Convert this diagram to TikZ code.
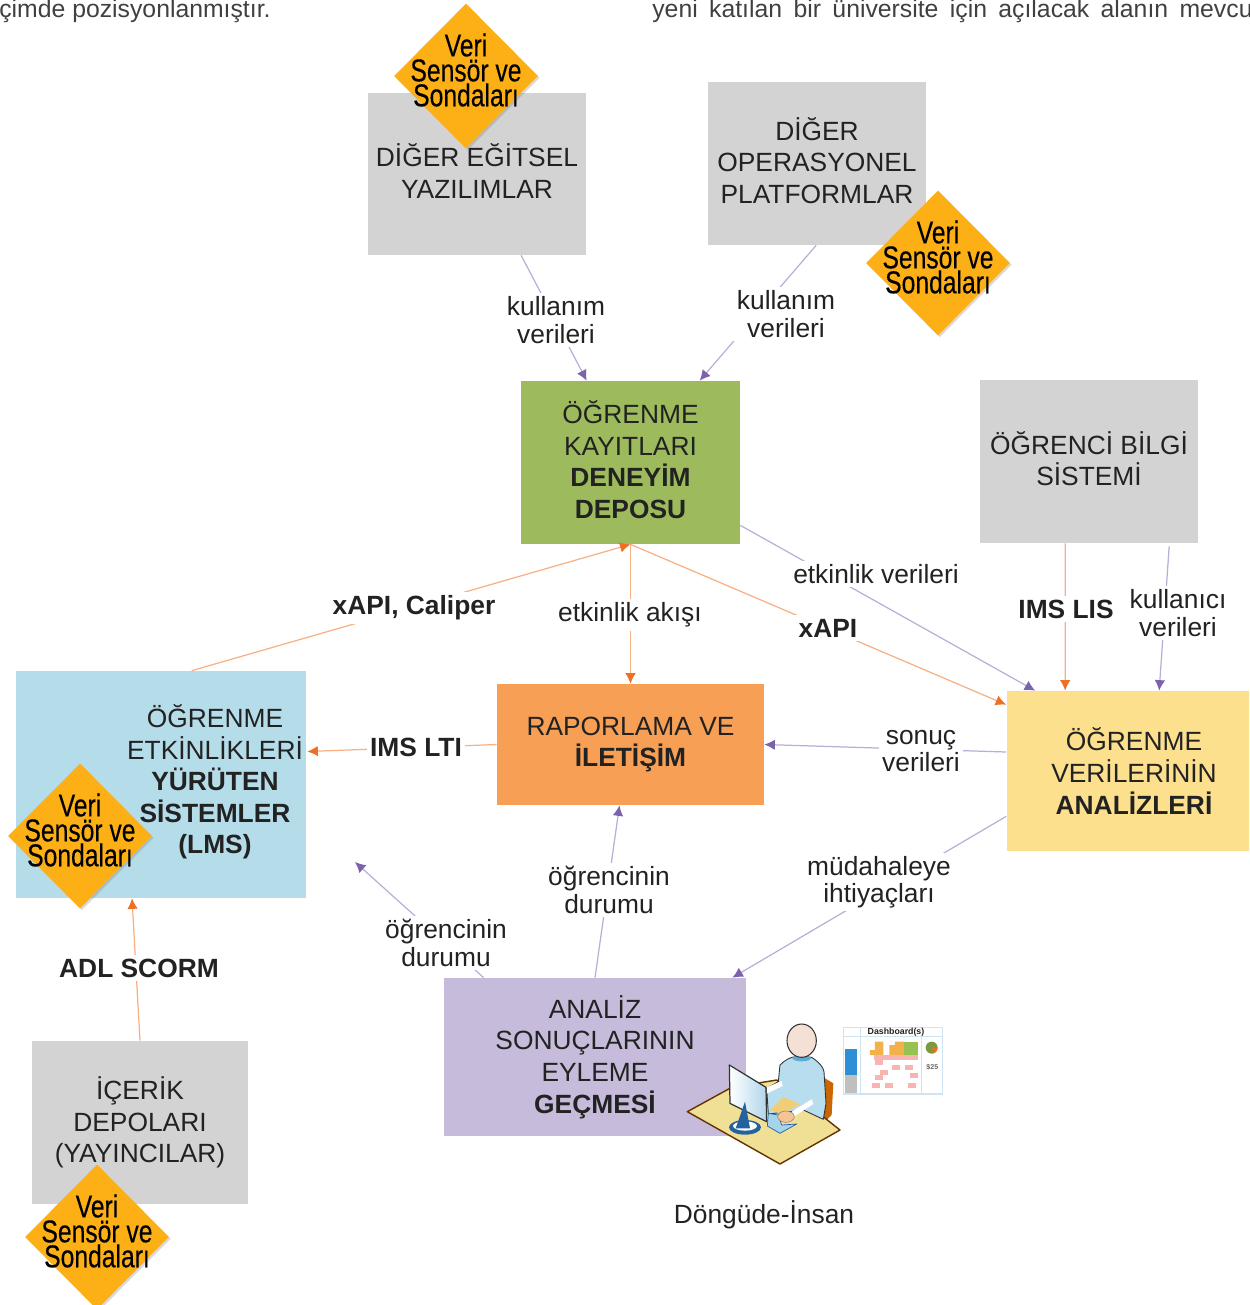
\documentclass[tikz,border=0pt]{standalone}
\usepackage{fontspec}
\setmainfont{Liberation Sans}
\newfontfamily\sondafont[FakeStretch=0.78,FakeBold=0.3]{Liberation Sans}
\usepackage{tikz}
\usetikzlibrary{
  arrows.meta,
  calc,
  shadows,
  shapes.geometric
}
\definecolor{griKutu}{HTML}{D3D3D3}
\definecolor{yesilKutu}{HTML}{9DBB5C}
\definecolor{maviKutu}{HTML}{B5DCE9}
\definecolor{turuncuKutu}{HTML}{F79F55}
\definecolor{sariKutu}{HTML}{FCE08D}
\definecolor{morKutu}{HTML}{C6BBDA}
\definecolor{sondaRenk}{HTML}{FDB016}
\definecolor{morCizgi}{HTML}{B9AED6}
\definecolor{morUc}{HTML}{7A62AC}
\definecolor{turuncuCizgi}{HTML}{F8B083}
\definecolor{turuncuUc}{HTML}{EE7025}
\definecolor{yaziRenk}{HTML}{222222}
\definecolor{masaRenk}{HTML}{EFE096}
\definecolor{govdeRenk}{HTML}{B7DDEE}
\definecolor{yakaRenk}{HTML}{5FA9D3}
\definecolor{tenRenk}{HTML}{F4E0D4}
\definecolor{ekranRenk}{HTML}{D5E9F5}
\definecolor{koyuMavi}{HTML}{25609F}
\definecolor{panoMavi}{HTML}{2E8FD6}
\definecolor{panoCizgi}{HTML}{CFE4F2}
\definecolor{panoTuruncu}{HTML}{F3B14E}
\definecolor{panoYesil}{HTML}{97C24F}
\definecolor{panoPembe}{HTML}{F8B4B0}
\newcommand{\altBosluk}{\rule[-3.4pt]{0pt}{0pt}}
\tikzset{
  every node/.style={text=yaziRenk,font=\fontsize{15}{18}\selectfont},
  kutu/.style={inner sep=0pt,align=center},
  etiket/.style={fill=white,inner sep=2pt,align=center,font=\fontsize{15}{15.5}\selectfont},
  kalin/.style={etiket,font=\fontsize{15}{15.5}\selectfont\bfseries},
  ustyazi/.style={anchor=west,inner sep=0pt,text=black!75,font=\fontsize{14.1}{18}\selectfont},
  sonda/.style={
    diamond,aspect=1,inner sep=0pt,minimum width=2.88cm,minimum height=2.9cm,
    fill=sondaRenk,drop shadow={shadow xshift=1pt,shadow yshift=-1pt,opacity=.3},
    label={[yshift=3.4pt,align=center,text=black,
      font=\sondafont\fontsize{18}{14.2}\selectfont]center:Veri\\Sensör ve\\Sondaları}
  },
  mor/.style={draw=morCizgi,line width=.7pt,-{Latex[color=morUc,length=6pt,width=6pt]}},
  turuncu/.style={draw=turuncuCizgi,line width=.7pt,-{Latex[color=turuncuUc,length=6pt,width=6pt]}},
}

\begin{document}
\begin{tikzpicture}[x=0.02cm,y=-0.02cm]
\clip (0,0) rectangle (1249,1305);
% ust satirlar
\node[ustyazi] (ustSol) at (-1,11) {çimde pozisyonlanmıştır.};
\node[ustyazi] (ustSag) at (652,11) {\spaceskip=.46em yeni katılan bir üniversite için açılacak alanın mevcut};

% kutular
\node[kutu,fill=griKutu,minimum width=4.38cm,minimum height=3.24cm] (egitsel) at (477,174) {DİĞER EĞİTSEL\\YAZILIMLAR\altBosluk};
\node[kutu,fill=griKutu,minimum width=4.38cm,minimum height=3.26cm] (operasyon) at (817,163.5) {DİĞER\\OPERASYONEL\\PLATFORMLAR\altBosluk};
\node[kutu,fill=griKutu,minimum width=4.38cm,minimum height=3.26cm] (bilgi) at (1089,461.5) {ÖĞRENCİ BİLGİ\\SİSTEMİ\altBosluk};
\node[kutu,fill=yesilKutu,minimum width=4.38cm,minimum height=3.26cm] (kayit) at (630.5,462.5) {ÖĞRENME\\KAYITLARI\\\textbf{DENEYİM}\\\textbf{DEPOSU}\altBosluk};
\node[kutu,fill=turuncuKutu,minimum width=5.34cm,minimum height=2.42cm] (rapor) at (630.5,744.5) {RAPORLAMA VE\\\textbf{İLETİŞİM}};
\node[kutu,fill=sariKutu,minimum width=5.1cm,minimum height=3.2cm] (analiz) at (1134,771) {ÖĞRENME\\VERİLERİNİN\\\textbf{ANALİZLERİ}};
\node[kutu,fill=maviKutu,minimum width=5.8cm,minimum height=4.54cm] (lms) at (161,784.5) {};
\node[kutu] (lmsYazi) at (215,782) {ÖĞRENME\\ETKİNLİKLERİ\\\textbf{YÜRÜTEN}\\\textbf{SİSTEMLER}\\\textbf{(LMS)}};
\node[kutu,fill=morKutu,minimum width=6.04cm,minimum height=3.16cm] (eylem) at (595,1057) {ANALİZ\\SONUÇLARININ\\EYLEME\\\textbf{GEÇMESİ}};
\node[kutu,fill=griKutu,minimum width=4.32cm,minimum height=3.26cm] (icerik) at (140,1122.5) {İÇERİK\\DEPOLARI\\(YAYINCILAR)};

% baglantilar
\coordinate (durumUc) at (355,862);
\draw[mor] ($(egitsel.south west)+(154,0)$) -- ($(kayit.north west)+(66,0)$);
\draw[mor] ($(operasyon.south west)+(109,0)$) -- ($(kayit.north west)+(179,0)$);
\draw[turuncu] ($(bilgi.south west)+(86,0)$) -- ($(analiz.north west)+(59,0)$);
\draw[mor] ($(bilgi.south west)+(190,3)$) -- ($(analiz.north west)+(153,0)$);
\draw[mor] ($(kayit.south east)+(0,-19)$) -- ($(analiz.north west)+(29,0)$);
\draw[turuncu] (kayit.south) -- ($(analiz.north west)+(0,14)$);
\draw[turuncu] ($(lms.north west)+(176,0)$) -- (kayit.south);
\draw[turuncu] (kayit.south) -- (rapor.north);
\draw[turuncu] (rapor.west) -- ($(lms.east)+(1,-33)$);
\draw[mor] ($(analiz.west)+(0,-19)$) -- (rapor.east);
\draw[mor] ($(analiz.south west)+(0,-35)$) -- ($(eylem.north east)+(-14,0)$);
\draw[mor] (eylem.north) -- ($(rapor.south)+(-11,0)$);
\draw[mor] ($(eylem.north west)+(40,0)$) -- (durumUc);
\draw[turuncu] (icerik.north) -- ($(lms.south)+(-29,0)$);

% etiketler
\node[etiket] (kullanimA) at (556,320) {kullanım\\verileri};
\node[etiket] (kullanimB) at (786,314) {kullanım\\verileri};
\node[etiket] (etkinlikV) at (876,574) {etkinlik verileri};
\node[etiket] (kullanici) at (1178,613) {kullanıcı\\verileri};
\node[kalin] (imsLis) at (1066,609) {IMS LIS};
\node[kalin] (xapi) at (828,628) {xAPI};
\node[kalin] (caliper) at (414,608) {xAPI, Caliper};
\node[etiket] (akis) at (630,615) {etkinlik akışı};
\node[kalin] (imsLti) at (416,747) {IMS LTI};
\node[etiket] (sonuc) at (921,751) {sonuç\\verileri};
\node[etiket] (mudahale) at (879,882) {müdahaleye\\ihtiyaçları};
\node[etiket] (durumA) at (609,890) {öğrencinin\\durumu};
\node[etiket] (durumB) at (446,943) {öğrencinin\\durumu};
\node[kalin] (scorm) at (139,968) {ADL SCORM};
\node[inner sep=0pt] (insan) at (764,1215) {Döngüde-İnsan};

% sondalar
\node[sonda] (sondaA) at (466,76) {};
\node[sonda] (sondaB) at (938,263) {};
\node[sonda] (sondaC) at (80,836) {};
\node[sonda] (sondaD) at (97,1237) {};

% masa basindaki kisi
\begin{scope}[shift={(670,1000)},x=0.00667cm,y=-0.00667cm,line join=round]
\fill[orange!80!black] (465,235) -- (490,250) -- (485,345) -- (462,368) -- cycle;
\draw[fill=masaRenk,draw=black!60!orange,line width=.8pt]
  (52,335) -- (185,262) -- (320,240) -- (510,390) -- (330,492) -- cycle;
\draw[fill=govdeRenk,draw=black!80,line width=.5pt]
  (330,195) .. controls (345,180) and (360,172) .. (375,170) -- (425,172)
  .. controls (445,185) and (460,200) .. (462,215) -- (468,310) -- (460,358)
  -- (400,330) -- (295,342) -- (290,265) -- (325,245) -- cycle;
\fill[masaRenk!80!orange] (300,330) -- (340,292) -- (392,312) -- (335,342) -- cycle;
\fill[white] (290,262) -- (335,243) -- (338,258) -- (292,280) -- cycle;
\fill[white] (365,335) -- (425,298) -- (430,312) -- (372,350) -- cycle;
\draw[fill=govdeRenk!80!yakaRenk,draw=koyuMavi,line width=.4pt] (295,340) -- (325,345) -- (335,375) -- (380,372) -- (330,400) -- (292,378) -- cycle;
\draw[fill=tenRenk!70!orange,draw=black!50,line width=.3pt] (348,350) ellipse[x radius=25,y radius=17];
\fill[yakaRenk] (395,174) ellipse[x radius=28,y radius=10];
\draw[fill=tenRenk,draw=black!80,line width=.6pt] (395,122) ellipse[x radius=44,y radius=50];
% ekran
\draw[left color=white,right color=ekranRenk!70!yakaRenk,draw=black!80,line width=.7pt] (178,195) -- (288,262) -- (290,365) -- (180,310) -- cycle;
\fill[koyuMavi] (225,382) ellipse[x radius=48,y radius=22];
\fill[white] (225,378) ellipse[x radius=36,y radius=14];
\fill[koyuMavi] (197,385) -- (225,305) -- (240,385) -- cycle;
\end{scope}

% pano
\begin{scope}[shift={(670,1000)},x=0.00667cm,y=-0.00667cm]
\draw[fill=white,draw=panoCizgi,line width=.6pt] (520,82) rectangle (818,282);
\draw[panoCizgi,line width=.4pt] (570,82) -- (570,282) (755,108) -- (755,282) (520,108) -- (818,108);
\fill[panoMavi] (524,148) rectangle (562,226);
\fill[black!25] (524,226) rectangle (560,278);
\fill[panoTuruncu] (600,150) rectangle (640,165) (615,125) rectangle (640,150) (658,135) rectangle (702,165) (675,125) rectangle (702,135);
\fill[panoYesil] (702,125) rectangle (745,165);
\fill[panoPembe] (612,166) rectangle (745,180);
\foreach \hx/\hy in {615/180,665/195,705/195,630/210,615/225,720/220,605/250,645/250,715/250}
  \fill[panoPembe] (\hx,\hy) rectangle +(24,14);
\fill[panoYesil!80!black] (785,143) circle[radius=18];
\fill[turuncuUc] (785,143) -- (803,143) arc[start angle=0,end angle=70,radius=18] -- cycle;
\node[inner sep=0pt,font=\fontsize{5}{6}\selectfont\bfseries] (panoBaslik) at (678,97) {Dashboard(s)};
\node[inner sep=0pt,font=\fontsize{4}{5}\selectfont\bfseries,text=black!60] (panoTutar) at (787,200) {\$25};
\end{scope}
\end{tikzpicture}
\end{document}
